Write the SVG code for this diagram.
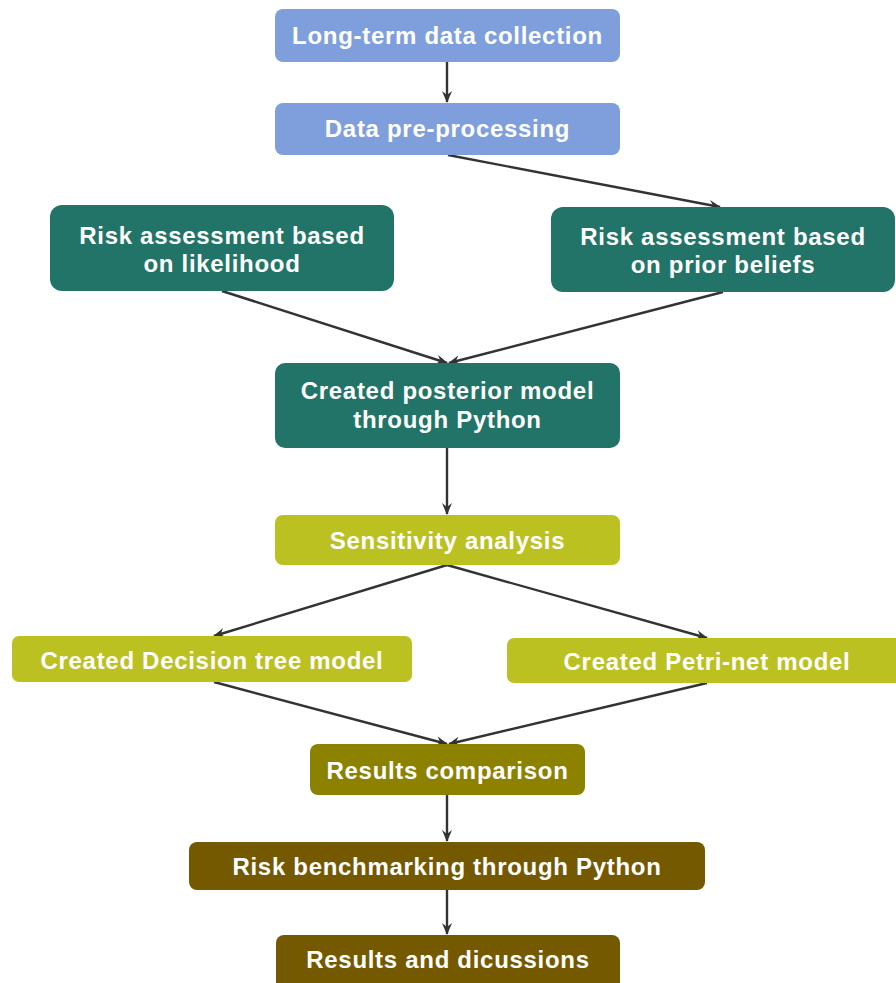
<svg xmlns="http://www.w3.org/2000/svg" width="896" height="983" viewBox="0 0 896 983">
<style>
.t{font-family:"Liberation Sans",Arial,sans-serif;font-weight:bold;font-size:24px;fill:#ffffff;text-anchor:middle;letter-spacing:0.7px}
.c{stroke:#333333;stroke-width:2.4;fill:none;marker-end:url(#ah)}
.blue{fill:#7f9fdc}
.teal{fill:#227468}
.lime{fill:#bcc122}
.olive{fill:#8d8200}
.brown{fill:#745900}
</style>
<defs>
<marker id="ah" viewBox="0 0 12 10" refX="11" refY="5" markerWidth="12" markerHeight="10" markerUnits="userSpaceOnUse" orient="auto">
<path d="M0,0 L12,5 L0,10 L4,5 z" fill="#333333"/>
</marker>
</defs>
<g id="connectors">
<line class="c" x1="447" y1="62" x2="447" y2="102"/>
<line class="c" x1="448" y1="155" x2="720" y2="207"/>
<line class="c" x1="222" y1="291" x2="447" y2="363"/>
<line class="c" x1="723" y1="292" x2="449" y2="363"/>
<line class="c" x1="447" y1="448" x2="447" y2="514"/>
<line class="c" x1="447" y1="565" x2="214" y2="636"/>
<line class="c" x1="447" y1="565" x2="707" y2="638"/>
<line class="c" x1="214" y1="682" x2="447" y2="744"/>
<line class="c" x1="707" y1="683" x2="449" y2="744"/>
<line class="c" x1="447" y1="795" x2="447" y2="841"/>
<line class="c" x1="447" y1="890" x2="447" y2="934"/>
</g>
<g id="n1"><rect class="blue" x="275" y="9" width="345" height="53" rx="8"/><text class="t" x="447.5" y="44">Long-term data collection</text></g>
<g id="n2"><rect class="blue" x="275" y="103" width="345" height="52" rx="8"/><text class="t" x="447.5" y="137">Data pre-processing</text></g>
<g id="n3"><rect class="teal" x="50" y="205" width="344" height="86" rx="12"/><text class="t" x="222" y="244">Risk assessment based</text><text class="t" x="222" y="272">on likelihood</text></g>
<g id="n4"><rect class="teal" x="551" y="207" width="344" height="85" rx="12"/><text class="t" x="723" y="245">Risk assessment based</text><text class="t" x="723" y="273">on prior beliefs</text></g>
<g id="n5"><rect class="teal" x="275" y="363" width="345" height="85" rx="10"/><text class="t" x="447.5" y="399">Created posterior model</text><text class="t" x="447.5" y="428">through Python</text></g>
<g id="n6"><rect class="lime" x="275" y="515" width="345" height="50" rx="8"/><text class="t" x="447.5" y="549">Sensitivity analysis</text></g>
<g id="n7"><rect class="lime" x="12" y="636" width="400" height="46" rx="7"/><text class="t" x="212" y="669">Created Decision tree model</text></g>
<g id="n8"><rect class="lime" x="507" y="638" width="400" height="45" rx="7"/><text class="t" x="707" y="670">Created Petri-net model</text></g>
<g id="n9"><rect class="olive" x="310" y="744" width="275" height="51" rx="8"/><text class="t" x="447.5" y="779">Results comparison</text></g>
<g id="n10"><rect class="brown" x="189" y="842" width="516" height="48" rx="8"/><text class="t" x="447" y="875">Risk benchmarking through Python</text></g>
<g id="n11"><rect class="brown" x="276" y="935" width="344" height="60" rx="8"/><text class="t" x="448" y="968">Results and dicussions</text></g>
</svg>
